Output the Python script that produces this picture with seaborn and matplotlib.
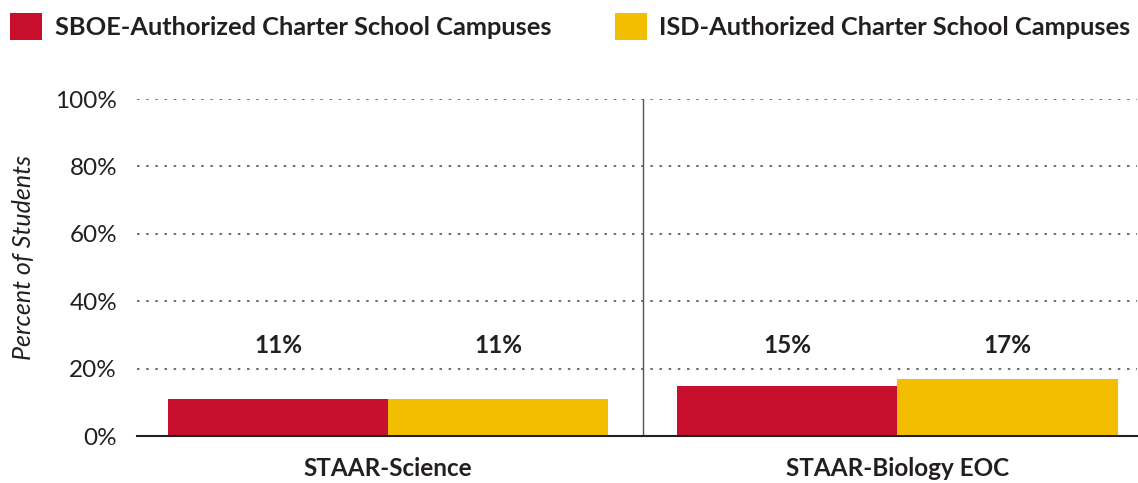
import pandas as pd
import seaborn as sns
import matplotlib.pyplot as plt

tests = ['STAAR-Science', 'STAAR-Biology EOC']
groups = ['SBOE-Authorized Charter School Campuses', 'ISD-Authorized Charter School Campuses']
sboe = [11, 15]
isd = [11, 17]
colors = ['#C8102E', '#F4BE00']

df = pd.DataFrame({
    'test': tests * 2,
    'group': [groups[0]] * 2 + [groups[1]] * 2,
    'pct': sboe + isd,
})

sns.set_style('white')
plt.rcParams['font.family'] = ['Lato', 'DejaVu Sans']
ink = '#231f20'

fig = plt.figure(figsize=(11.38, 4.83), dpi=100)
ax = fig.add_axes([0.12, 0.097, 0.879, 0.698])

sns.barplot(data=df, x='test', y='pct', hue='group', order=tests, hue_order=groups,
            palette=colors, width=0.865, saturation=1, linewidth=0, ax=ax)

ax.set_ylim(0, 100)
ax.set_xlim(-0.494, 1.47)
ax.set_yticks(range(0, 101, 20))
ax.set_yticklabels([f'{v}%' for v in range(0, 101, 20)], fontsize=17.5, color=ink)
ax.set_xticklabels(tests, fontsize=17.5, fontweight='bold', color=ink)
ax.tick_params(axis='y', length=0, pad=14)
ax.tick_params(axis='x', length=0, pad=15)
ax.set_xlabel('')
ax.set_ylabel('Percent of Students', fontsize=18, style='italic', color=ink)
ax.yaxis.set_label_coords(-0.102, 0.53)

for v in range(20, 101, 20):
    ax.axhline(v, color='#555555', lw=1.2, ls=(0, (1.5, 4)), zorder=0)
ax.axvline(0.5, color='#555555', lw=1, zorder=0)

for s in ['top', 'right', 'left']:
    ax.spines[s].set_visible(False)
ax.spines['bottom'].set_color(ink)
ax.spines['bottom'].set_linewidth(1.5)

# value labels sit at a fixed height above the bars
for cont in ax.containers:
    for bar, v in zip(cont, cont.datavalues):
        ax.text(bar.get_x() + bar.get_width() / 2, 27, f'{v:.0f}%', ha='center', va='center',
                fontsize=17.5, fontweight='bold', color=ink)

handles, labels = ax.get_legend_handles_labels()
ax.legend_.remove()
fig.legend(handles, labels, loc='upper left', bbox_to_anchor=(-0.002, 1.0), ncol=2, frameon=False,
           borderaxespad=0.3, borderpad=0.2,
           handlelength=1.25, handleheight=1.3, handletextpad=0.5, columnspacing=2.5,
           prop={'size': 18.3, 'weight': 'bold'}, labelcolor=ink)

fig.savefig('out.png', dpi=100)
